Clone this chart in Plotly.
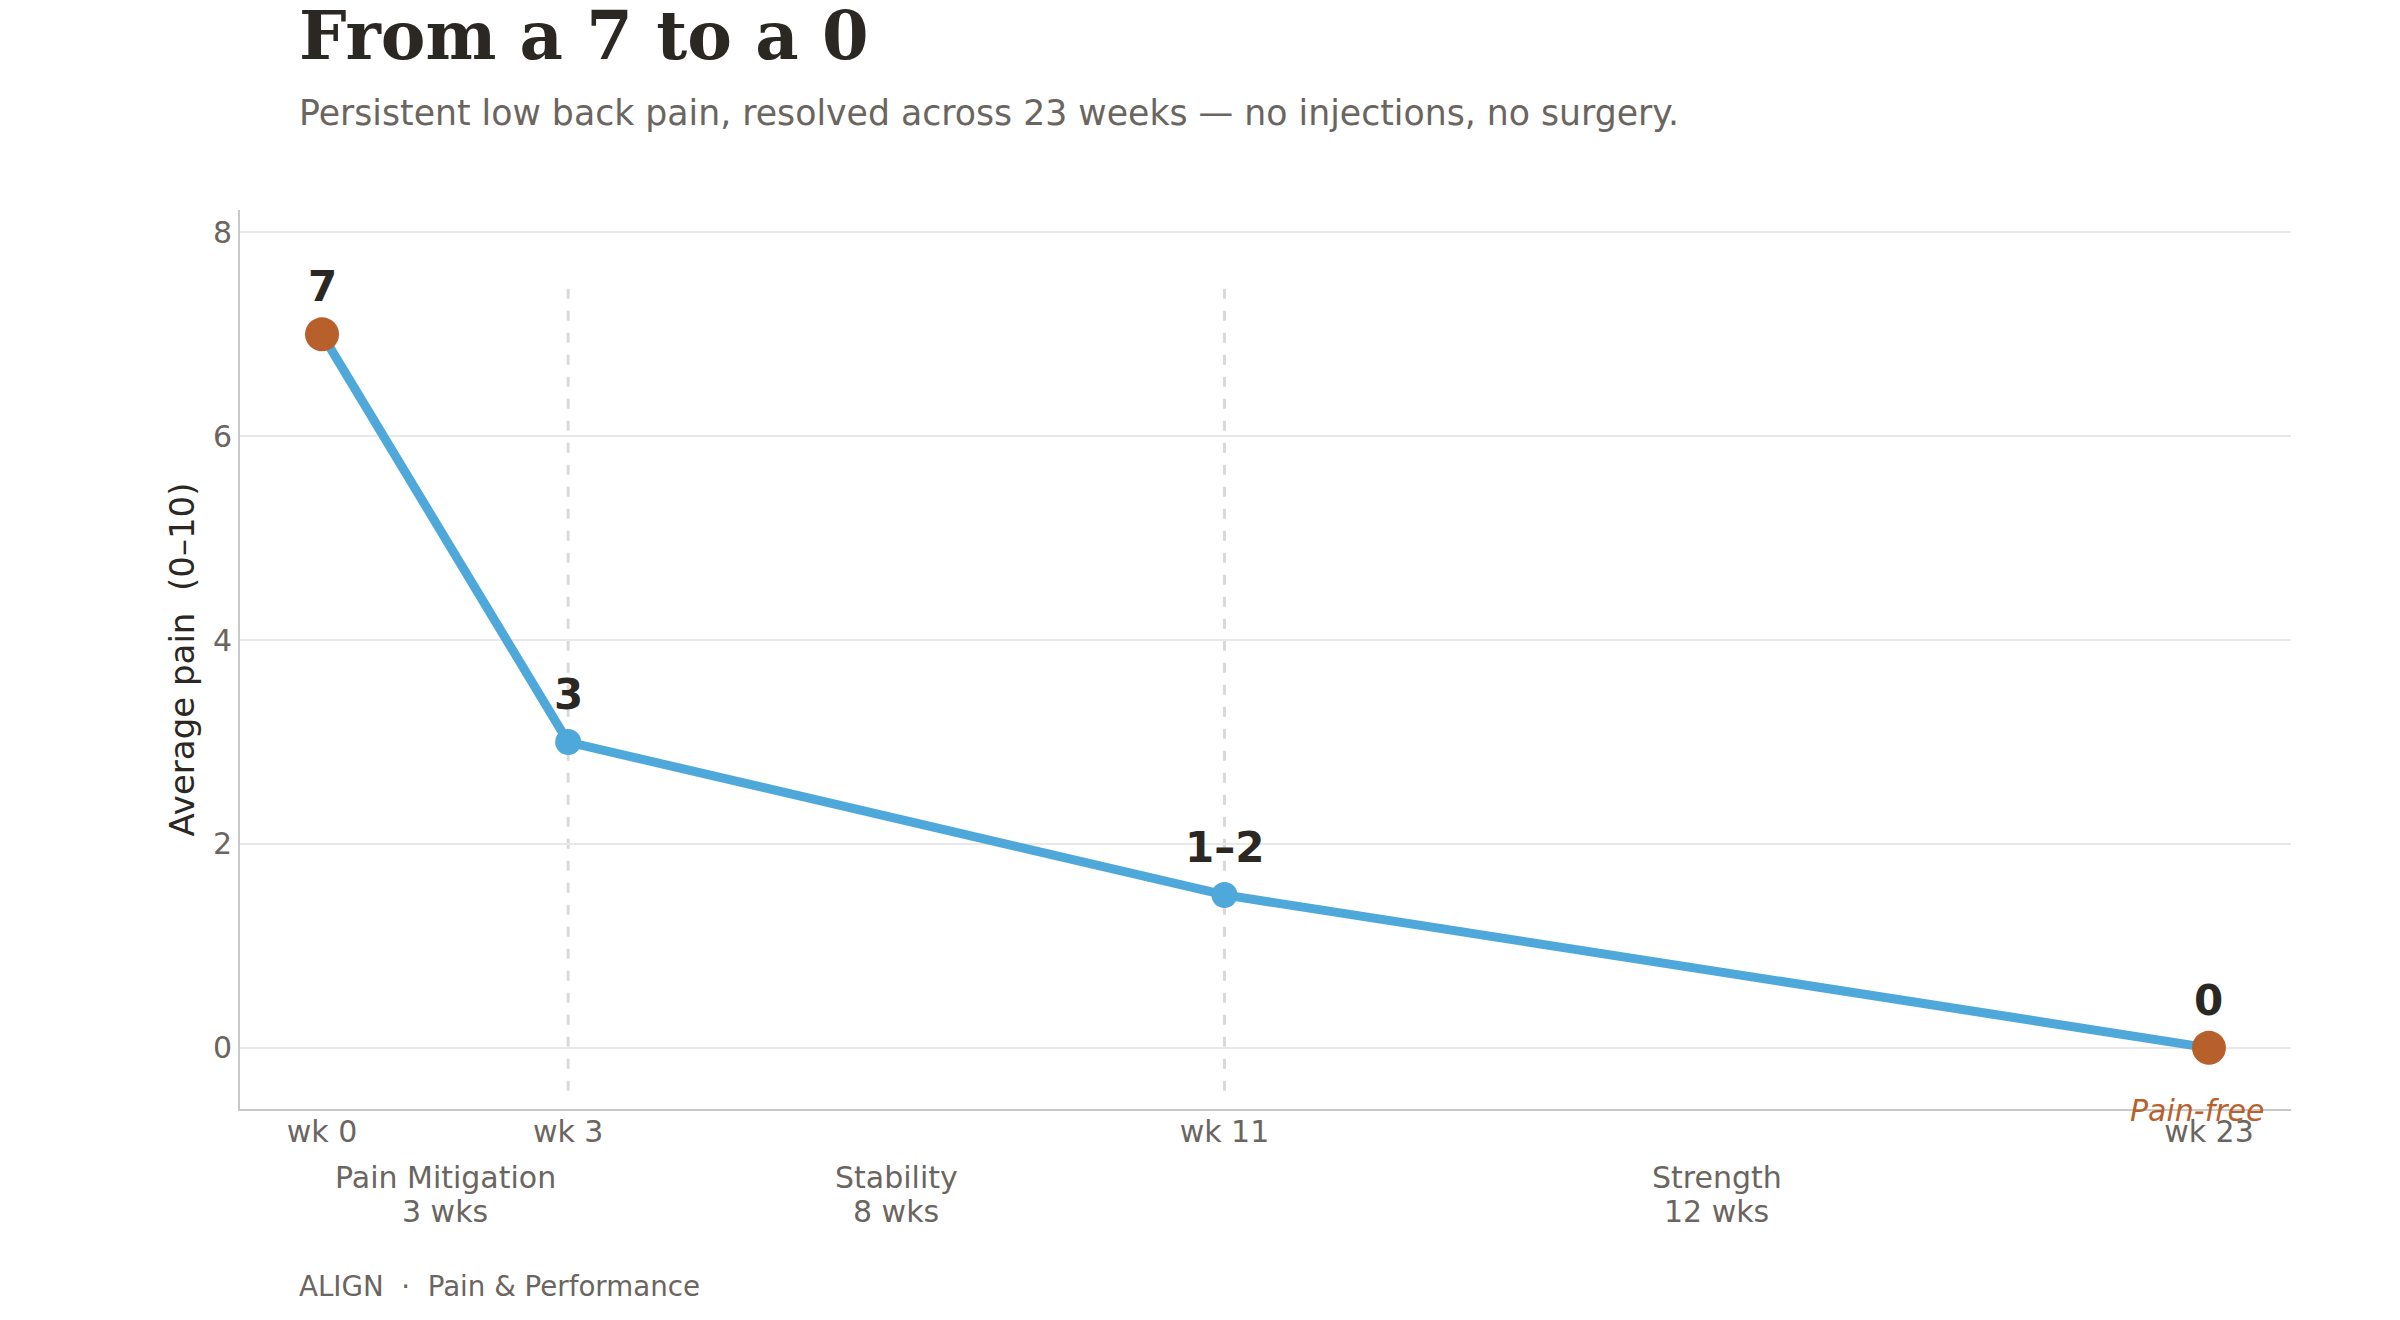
import plotly.graph_objects as go

# ---- data ----
weeks = [0, 3, 11, 23]
pain = [7, 3, 1.5, 0]
point_labels = ["7", "3", "1–2", "0"]
week_ticks = [0, 3, 11, 23]
week_tick_text = ["wk 0", "wk 3", "wk 11", "wk 23"]
phase_names = ["Pain Mitigation", "Stability", "Strength"]
phase_lengths = ["3 wks", "8 wks", "12 wks"]
phase_centers = [1.5, 7, 17]
phase_boundaries = [3, 11]
y_ticks = [0, 2, 4, 6, 8]

BLUE = "#4EA8DA"
ORANGE = "#B8602B"
DARK = "#2B2824"
GRAY = "#6B655F"
SANS = "DejaVu Sans, sans-serif"
SERIF = "DejaVu Serif, serif"

OFF = 8  # page body margin
W, H = 2400 - OFF, 1320 - OFF
# plot area in page pixels: left 239.5, right 2291, top 210, bottom 1109
ML = 239.5 - OFF
MR = 2400 - 2291
MT = 210 - OFF
MB = 1320 - 1109
PH = H - MT - MB
PW = W - ML - MR

def py(page_y):
    return (1109 - page_y) / PH

def px(page_x):
    return (page_x - 239.5) / PW

fig = go.Figure()

# phase boundary dashed lines
for b in phase_boundaries:
    fig.add_shape(type="line", xref="x", yref="y", x0=b, x1=b, y0=-0.42, y1=7.5,
                  line=dict(color="#D9D9D9", width=3, dash="10px,12px"), layer="below")

fig.add_trace(go.Scatter(
    x=weeks, y=pain, mode="lines",
    line=dict(color=BLUE, width=9), hoverinfo="skip", showlegend=False))

marker_colors = [ORANGE if i in (0, len(weeks) - 1) else BLUE for i in range(len(weeks))]
marker_sizes = [34 if i in (0, len(weeks) - 1) else 26 for i in range(len(weeks))]
fig.add_trace(go.Scatter(
    x=weeks, y=pain, mode="markers",
    marker=dict(color=marker_colors, size=marker_sizes, opacity=1, line=dict(width=0)),
    showlegend=False))

annotations = []
for wk, v, lab in zip(weeks, pain, point_labels):
    annotations.append(dict(x=wk, y=v, xref="x", yref="y", text=lab, showarrow=False,
                            yanchor="bottom", yshift=21,
                            font=dict(family=SANS, size=42, color=DARK, weight="bold")))

annotations.append(dict(x=weeks[-1], y=pain[-1], xref="x", yref="y", text="<i>Pain-free</i>",
                        showarrow=False, yanchor="middle", xshift=-12, yshift=-63,
                        font=dict(family=SANS, size=30, color=ORANGE)))

for c, n, l in zip(phase_centers, phase_names, phase_lengths):
    annotations.append(dict(x=c, y=py(1177), xref="x", yref="paper",
                            text=n, showarrow=False, yanchor="middle",
                            font=dict(family=SANS, size=30, color=GRAY)))
    annotations.append(dict(x=c, y=py(1211), xref="x", yref="paper",
                            text=l, showarrow=False, yanchor="middle",
                            font=dict(family=SANS, size=30, color=GRAY)))

annotations.append(dict(x=px(297), y=py(35), xref="paper", yref="paper",
                        text="<b>From a 7 to a 0</b>", showarrow=False,
                        xanchor="left", yanchor="middle",
                        font=dict(family=SERIF, size=67, color=DARK)))
annotations.append(dict(x=px(297), y=py(113), xref="paper", yref="paper",
                        text="Persistent low back pain, resolved across 23 weeks — no injections, no surgery.",
                        showarrow=False, xanchor="left", yanchor="middle",
                        font=dict(family=SANS, size=34.7, color=GRAY)))
annotations.append(dict(x=px(297), y=py(1286), xref="paper", yref="paper",
                        text="ALIGN  ·  Pain &amp; Performance", showarrow=False,
                        xanchor="left", yanchor="middle",
                        font=dict(family=SANS, size=27.7, color=GRAY)))

fig.update_layout(
    width=W, height=H,
    margin=dict(l=ML, r=MR, t=MT, b=MB),
    paper_bgcolor="white", plot_bgcolor="white",
    annotations=annotations,
    showlegend=False,
    xaxis=dict(range=[-1, 24], tickvals=week_ticks, ticktext=week_tick_text,
               showgrid=False, zeroline=False, showline=True, linecolor="#C8C8C8",
               linewidth=2, ticks="", ticklabelstandoff=-5,
               tickfont=dict(family=SANS, size=30, color=GRAY)),
    yaxis=dict(range=[-0.6, 8.22], tickvals=y_ticks, showgrid=True, gridcolor="#E8E8E8",
               gridwidth=2, zeroline=False, showline=True, linecolor="#C8C8C8", linewidth=2,
               ticks="", tickfont=dict(family=SANS, size=30, color=GRAY),
               title=dict(text="Average pain  (0–10)", standoff=8,
                          font=dict(family=SANS, size=34, color=DARK))),
)

fig.write_html("out.html")
